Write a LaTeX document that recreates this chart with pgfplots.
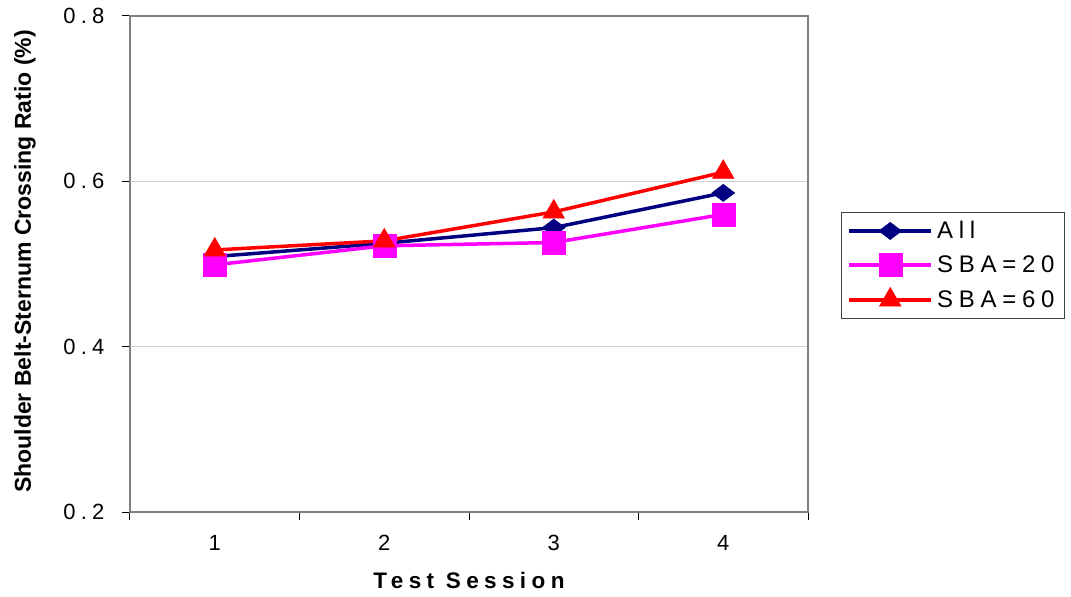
\documentclass[border=0pt]{standalone}
\usepackage{fontspec}
\setmainfont{Liberation Sans}
\newfontfamily\spf[LetterSpace=24]{Liberation Sans}
\usepackage{pgfplots}
\pgfplotsset{compat=1.18}
\definecolor{navyc}{RGB}{0,0,128}
\definecolor{magc}{RGB}{255,0,255}
\definecolor{redc}{RGB}{255,0,0}
\begin{document}
\begin{tikzpicture}
\useasboundingbox (-130pt,-85pt) rectangle (941pt,512pt);
\begin{axis}[
  at={(0pt,0pt)}, anchor=origin,
  width=678pt, height=496pt, scale only axis,
  xmin=0.5, xmax=4.5, ymin=0.2, ymax=0.8,
  xtick={0.5,1.5,2.5,3.5,4.5}, xticklabels={},
  extra x ticks={1,2,3,4}, extra x tick labels={1,2,3,4},
  extra x tick style={major tick length=0pt},
  ytick={0.2,0.4,0.6,0.8}, yticklabels={0.2,0.4,0.6,0.8},
  tick align=outside, tick pos=left,
  major tick length=8pt,
  tick style={draw=black, line width=1pt},
  ymajorgrids, grid style={gray!35, line width=1pt},
  axis line style={draw=gray, line width=2.5pt},
  ticklabel style={font=\spf\fontsize{22}{25}\selectfont},
  xticklabel style={yshift=-20pt},
  yticklabel style={xshift=-14pt},
  ylabel={Shoulder Belt-Sternum Crossing Ratio (\%)},
  ylabel style={font=\bfseries\fontsize{23}{26}\selectfont, at={(axis description cs:-0.155,0.505)}, anchor=center},
  xlabel={Test Session},
  xlabel style={font=\spf\bfseries\fontsize{22.5}{25}\selectfont, at={(axis description cs:0.5,-0.139)}, anchor=center},
  legend style={at={(rel axis cs:1.0487,0.6048)}, anchor=north west, draw=black!75, line width=1pt,
     font=\spf\fontsize{24}{28}\selectfont, fill=white, row sep=11pt, inner xsep=6pt, inner ysep=7pt,
     nodes={inner xsep=4pt}},
  legend cell align=left,
  legend image code/.code={\draw[#1, mark=none] (0pt,0pt) -- (82pt,0pt);
     \draw[#1, only marks] plot coordinates {(41pt,0pt)};},
]
\addplot[color=navyc, line width=3.5pt, mark=diamond*, mark size=11.5pt, mark options={rotate=90, solid, line width=0.5pt}]
  coordinates {(1,0.509) (2,0.525) (3,0.544) (4,0.586)};
\addlegendentry{All}
\addplot[color=magc, line width=3.5pt, mark=square*, mark size=11.5pt, mark options={solid, line width=0.5pt}]
  coordinates {(1,0.499) (2,0.522) (3,0.526) (4,0.560)};
\addlegendentry{SBA=20}
\addplot[color=redc, line width=3.5pt, mark=triangle*, mark size=12.5pt, mark options={solid, line width=0.5pt}]
  coordinates {(1,0.517) (2,0.528) (3,0.563) (4,0.611)};
\addlegendentry{SBA=60}
\end{axis}
\end{tikzpicture}
\end{document}
